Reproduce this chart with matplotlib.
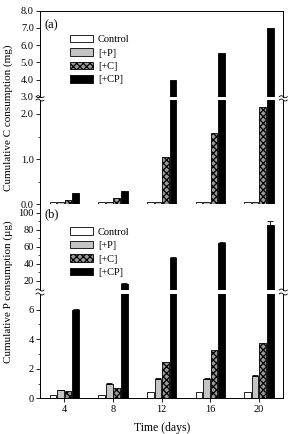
import numpy as np
import matplotlib
matplotlib.use("Agg")
import matplotlib.pyplot as plt
from matplotlib.patches import Patch

plt.rcParams['font.family'] = ['Liberation Serif', 'DejaVu Serif']
plt.rcParams['hatch.linewidth'] = 0.9

# data
days = [4, 8, 12, 16, 20]
groups = ['Control', '[+P]', '[+C]', '[+CP]']

c_control = [0.06, 0.06, 0.06, 0.06, 0.06]
c_p = [0.06, 0.06, 0.06, 0.06, 0.06]
c_c = [0.10, 0.14, 1.04, 1.57, 2.16]
c_cp = [0.24, 0.30, 3.95, 5.52, 7.0]

p_control = [0.22, 0.25, 0.45, 0.45, 0.45]
p_p = [0.56, 1.0, 1.3, 1.3, 1.5]
p_c = [0.50, 0.68, 2.47, 3.26, 3.76]
p_cp = [6.0, 16.0, 47.0, 64.5, 86.0]
p_p_err = [0.03, 0.03, 0.05, 0.05, 0.1]
p_cp_err = [0.05, 1.5, 0.5, 1.5, 4.0]

faces = ['white', '#c4c4c4', '#9a9a9a', 'black']
hatches = [None, None, 'xxxxx', None]
offs = np.array([-1.5, -0.5, 0.5, 1.5]) * 0.62
width = 0.54

fig = plt.figure(figsize=(2.88, 4.34), dpi=100)
H = 434.0
L = 40 / 288
W = (283.3 - 40) / 288

def make_ax(ytop, ybot):
    return fig.add_axes([L, 1 - ybot / H, W, (ybot - ytop) / H])

a_top = make_ax(10.7, 96.7)
a_bot = make_ax(100.0, 204.3)
b_top = make_ax(204.3, 290.0)
b_bot = make_ax(294.0, 398.3)

def draw(ax, series, errs=None):
    for i, vals in enumerate(series):
        x = np.array(days) + offs[i]
        ax.bar(x, vals, width, color=faces[i], edgecolor='black', linewidth=0.6,
               hatch=hatches[i], zorder=2)
        if errs is not None and errs[i] is not None:
            ax.errorbar(x, vals, yerr=[np.zeros(len(vals)), errs[i]], fmt='none',
                        ecolor='black', elinewidth=0.6, capsize=2, capthick=0.6, zorder=3)

c_series = [c_control, c_p, c_c, c_cp]
p_series = [p_control, p_p, p_c, p_cp]
p_errs = [None, p_p_err, None, p_cp_err]

for ax in (a_top, a_bot):
    draw(ax, c_series)
for ax in (b_top, b_bot):
    draw(ax, p_series, p_errs)

a_top.set_ylim(3, 8)
a_top.set_yticks([3, 4, 5, 6, 7, 8])
a_top.set_yticklabels(['3.0', '4.0', '5.0', '6.0', '7.0', '8.0'])
a_bot.set_ylim(0, 2.31)
a_bot.set_yticks([0, 1, 2])
a_bot.set_yticklabels(['0.0', '1.0', '2.0'])
a_bot.set_yticks([0.5, 1.5], minor=True)

b_top.set_ylim(9.06, 109.9)
b_top.set_yticks([20, 40, 60, 80, 100])
b_top.set_yticks([30, 50, 70, 90], minor=True)
b_bot.set_ylim(0, 7.05)
b_bot.set_yticks([0, 2, 4, 6])
b_bot.set_yticks([1, 3, 5], minor=True)

for ax in (a_top, a_bot, b_top, b_bot):
    ax.set_xlim(2, 22)
    ax.set_xticks(days)
    ax.tick_params(axis='both', which='major', direction='out', length=3, width=0.6,
                   labelsize=7.5, pad=1.5)
    ax.tick_params(axis='y', which='minor', direction='out', length=1.8, width=0.5)
    for s in ax.spines.values():
        s.set_linewidth(0.7)

for ax in (a_top, b_top):
    ax.spines['bottom'].set_visible(False)
    ax.tick_params(axis='x', which='both', bottom=False, labelbottom=False)
for ax in (a_bot, b_bot):
    ax.spines['top'].set_visible(False)
b_top.spines['top'].set_visible(False)
a_bot.tick_params(axis='x', labelbottom=False)
b_bot.set_xticklabels([str(d) for d in days])

# break marks on the spines
def squiggle(ypix):
    t = np.linspace(-1, 1, 30)
    for xp in (40, 283.3):
        xs = (xp + 4 * t) / 288
        ys = 1 - (ypix + 1.0 * np.sin(np.pi * t)) / H
        fig.add_artist(plt.Line2D(xs, ys, color='black', lw=0.6))

for yp in (96.7, 100.0, 290.0, 294.0):
    squiggle(yp)

# legends and panel letters
handles = [Patch(facecolor=faces[i], edgecolor='black', linewidth=0.6, hatch=hatches[i],
                 label=groups[i]) for i in range(4)]
for ax, ytop in ((a_top, 0.72), (b_top, 0.73)):
    ax.legend(handles=handles, loc='upper left', bbox_to_anchor=(0.123, ytop),
              frameon=False, fontsize=7.5, handlelength=2.2, handleheight=0.75,
              handletextpad=0.5, labelspacing=0.38, borderpad=0, borderaxespad=0)

a_top.text(0.02, 0.83, '(a)', transform=a_top.transAxes, fontsize=9, va='center')
b_top.text(0.02, 0.88, '(b)', transform=b_top.transAxes, fontsize=9, va='center')

fig.text(0.03, 1 - 118 / H, 'Cumulative C consumption (mg)', rotation=90,
         fontsize=8, ha='center', va='center')
fig.text(0.03, 1 - 292 / H, 'Cumulative P consumption (\u00b5g)', rotation=90,
         fontsize=8, ha='center', va='center')
fig.text(L + W / 2, 1 - 428 / H, 'Time (days)', fontsize=8.5, ha='center', va='center')

fig.savefig('out.png', dpi=100, facecolor='white')
